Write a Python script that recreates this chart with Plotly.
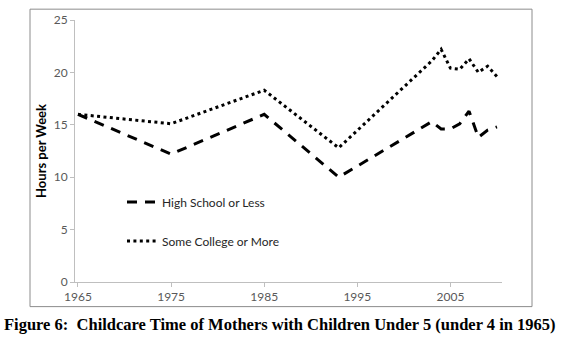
import plotly.graph_objects as go

# Survey years and weekly childcare hours for mothers with children under 5
years = [1965, 1975, 1985, 1993, 2003, 2004, 2005, 2006, 2007, 2008, 2009, 2010]
high_school_or_less = [16.0, 12.2, 16.0, 10.0, 15.3, 14.6, 14.6, 15.1, 16.3, 13.8, 14.5, 14.8]
some_college_or_more = [16.0, 15.1, 18.3, 12.8, 21.1, 22.2, 20.4, 20.3, 21.3, 20.0, 20.6, 19.6]

series_names = ["High School or Less", "Some College or More"]
x_ticks = [1965, 1975, 1985, 1995, 2005]
y_ticks = [0, 5, 10, 15, 20, 25]

title_text = "Figure 6:  Childcare Time of Mothers with Children Under 5 (under 4 in 1965)"
y_title = "Hours per Week"

W, H = 561, 340
# plot-area edges in pixels
L, R, T, B = 75, 502, 16, 282


def px_x(px):
    return (px - L) / (R - L)


def px_y(py):
    return (B - py) / (B - T)


fig = go.Figure()
fig.add_trace(go.Scatter(
    x=years, y=high_school_or_less, name=series_names[0], mode="lines",
    line=dict(color="#000000", width=3, dash="10px,8px"),
    legendgroup="a",
))
fig.add_trace(go.Scatter(
    x=years, y=some_college_or_more, name=series_names[1], mode="lines",
    line=dict(color="#000000", width=3, dash="3px,3.4px"),
    legendgroup="b",
))

axis_grey = "#bfbfbf"
label_grey = "#595959"

fig.update_layout(
    width=W, height=H,
    margin=dict(l=L, r=W - R, t=T, b=H - B, pad=0),
    paper_bgcolor="white", plot_bgcolor="white",
    font=dict(family="Lato, 'Open Sans', sans-serif", size=11, color=label_grey),
    showlegend=True,
    legend=dict(
        x=px_x(122), y=px_y(186), xanchor="left", yanchor="top",
        bgcolor="rgba(0,0,0,0)", borderwidth=0,
        font=dict(size=12, color="#262626"),
        tracegroupgap=20,
    ),
    xaxis=dict(
        range=[1964.68, 2010.54], tickmode="array", tickvals=x_ticks,
        ticktext=[str(v) for v in x_ticks],
        showline=True, linecolor=axis_grey, linewidth=1,
        ticks="outside", ticklen=4, tickcolor=axis_grey,
        showgrid=False, zeroline=False,
        tickfont=dict(size=12, color=label_grey),
    ),
    yaxis=dict(
        range=[0, 25], tickmode="array", tickvals=y_ticks,
        showline=True, linecolor=axis_grey, linewidth=1,
        ticks="outside", ticklen=4, tickcolor=axis_grey,
        showgrid=False, zeroline=False,
        tickfont=dict(size=12, color=label_grey),
        title=dict(text="<b>" + y_title + "</b>", standoff=4,
                   font=dict(size=13, color="#000000")),
    ),
    shapes=[dict(
        type="rect", xref="paper", yref="paper",
        x0=px_x(30), x1=px_x(532), y0=px_y(307), y1=px_y(5),
        line=dict(color="#8c8c8c", width=1), fillcolor="rgba(0,0,0,0)",
        layer="below",
    )],
    annotations=[dict(
        text="<b>" + title_text + "</b>", xref="paper", yref="paper",
        x=px_x(280), y=px_y(325), xanchor="center", yanchor="middle",
        showarrow=False,
        font=dict(family="'Liberation Serif', 'Times New Roman', serif",
                  size=16.5, color="#000000"),
    )],
)

fig.write_html("out.html")
